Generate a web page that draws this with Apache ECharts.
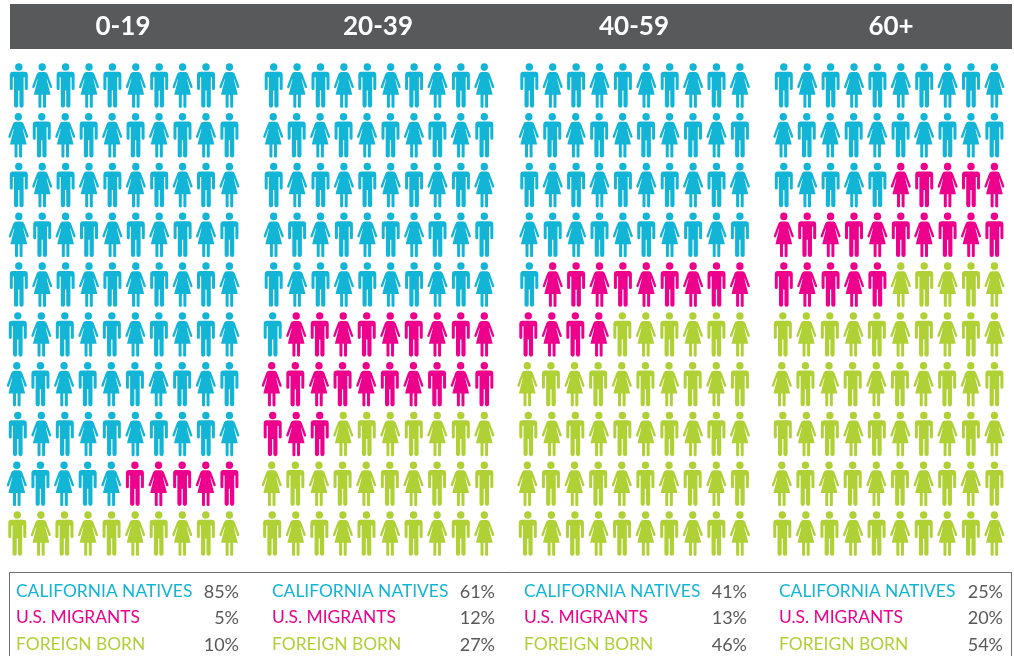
<!DOCTYPE html>
<html>
<head>
<meta charset="utf-8">
<title>California population by age group</title>
<style>
html, body { margin: 0; padding: 0; background: #fff; }
#main { width: 1014px; height: 656px; }
</style>
<script src="https://cdn.jsdelivr.net/npm/echarts@6/dist/echarts.min.js"></script>
</head>
<body>
<div id="main"></div>
<script>
// data
var ageGroups = ['0-19', '20-39', '40-59', '60+'];
var groupNames = ['CALIFORNIA NATIVES', 'U.S. MIGRANTS', 'FOREIGN BORN'];
// figures printed in the table
var nativesPct = [85, 61, 41, 25];
var migrantsPct = [5, 12, 13, 20];
var foreignPct = [10, 27, 46, 54];
// how many icons are actually coloured in each block
var nativesIcons = [85, 51, 41, 25];
var migrantsIcons = [5, 22, 13, 20];
var foreignIcons = [10, 27, 46, 55];
// first figure of each row, m = man, w = woman
var rowStart = ['m', 'w', 'm', 'w', 'm', 'm', 'w', 'm', 'w', 'm'];

var colors = ['#13b5d6', '#ec008c', '#afd136'];
var grey = '#58595b';
var font = 'Lato';

var manPath = 'path://M5.3 3.7a3.7 3.7 0 1 0 7.4 0a3.7 3.7 0 1 0 -7.4 0zM3 8.5H15Q18 8.5 18 11.5V25A1.5 1.5 0 0 1 15 25V14H13.8V42A2.1 2.1 0 0 1 9.6 42V27H8.4V42A2.1 2.1 0 0 1 4.2 42V14H3V25A1.5 1.5 0 0 1 0 25V11.5Q0 8.5 3 8.5Z';
var womanPath = 'path://M6.3 3.7a3.7 3.7 0 1 0 7.4 0a3.7 3.7 0 1 0 -7.4 0zM7.5 8.5H12.5Q14.5 8.5 15.4 10.5L20 22.5A1.2 1.2 0 0 1 17.8 23.4L14.9 15.5L14.5 15.5L18.4 30.5H13.8V42.2A1.8 1.8 0 0 1 10.8 42.2V30.5H9.2V42.2A1.8 1.8 0 0 1 6.2 42.2V30.5H1.6L5.5 15.5L5.1 15.5L2.2 23.4A1.2 1.2 0 0 1 0 22.5L4.6 10.5Q5.5 8.5 7.5 8.5Z';

// layout
var gridLeft = [7.1, 262, 517.6, 772.1];
var headerX = [123, 378, 634, 891];
var labelX = [16, 272, 524, 779];
var pctX = [239, 495, 747, 1003];
var rowY = [591, 617, 644];
// the lower rows sit a little left in the original, mostly at their left end
var rowNudge = [0, -0.5, 0, 0, 0, -1, -2, -1, -2, -1.5];

var grids = [], xAxes = [], yAxes = [], series = [], graphics = [];

// walk the block row by row, filling from the top left
function iconsFor(start, count) {
    var out = [];
    for (var i = start; i < start + count; i++) {
        var row = Math.floor(i / 10);
        var col = i % 10;
        var first = rowStart[row] == 'm' ? 0 : 1;
        var isMan = (col + first) % 2 == 0;
        out.push({
            value: [col, row],
            symbol: isMan ? manPath : womanPath,
            symbolSize: isMan ? [18, 44.5] : [20, 44.5],
            symbolOffset: [rowNudge[row] * (9 - col) / 9, 0]
        });
    }
    return out;
}

graphics.push({
    type: 'rect',
    shape: { x: 9.5, y: 572.5, width: 1002, height: 100 },
    style: { fill: 'none', stroke: '#6d6e70', lineWidth: 1 }
});
graphics.push({
    type: 'rect',
    shape: { x: 10, y: 4, width: 1002, height: 45 },
    style: { fill: grey }
});

ageGroups.forEach(function (age, p) {
    grids.push({ left: gridLeft[p], top: 60.6, width: 234, height: 497.8 });
    xAxes.push({ type: 'value', gridIndex: p, min: -0.5, max: 9.5, show: false });
    yAxes.push({ type: 'value', gridIndex: p, min: -0.5, max: 9.5, inverse: true, show: false });

    var counts = [nativesIcons[p], migrantsIcons[p], foreignIcons[p]];
    var pcts = [nativesPct[p], migrantsPct[p], foreignPct[p]];
    var start = 0;
    groupNames.forEach(function (name, g) {
        series.push({
            name: name + ' ' + age,
            type: 'scatter',
            xAxisIndex: p,
            yAxisIndex: p,
            silent: true,
            itemStyle: { color: colors[g], opacity: 1 },
            data: iconsFor(start, counts[g])
        });
        start += counts[g];

        graphics.push({
            type: 'text',
            style: { x: labelX[p], y: rowY[g], text: name, fill: colors[g], font: '400 17.4px ' + font, textAlign: 'left', textVerticalAlign: 'middle' }
        });
        graphics.push({
            type: 'text',
            style: { x: pctX[p], y: rowY[g] + 1, text: pcts[g] + '%', fill: grey, font: '400 18px ' + font, textAlign: 'right', textVerticalAlign: 'middle' }
        });
    });

    graphics.push({
        type: 'text',
        style: { x: headerX[p], y: 27, text: age, fill: '#fff', font: '700 26px ' + font, textAlign: 'center', textVerticalAlign: 'middle' }
    });
});

var myChart = echarts.init(document.getElementById('main'));
myChart.setOption({
    animation: false,
    grid: grids,
    xAxis: xAxes,
    yAxis: yAxes,
    series: series,
    graphic: graphics
});
</script>
</body>
</html>
